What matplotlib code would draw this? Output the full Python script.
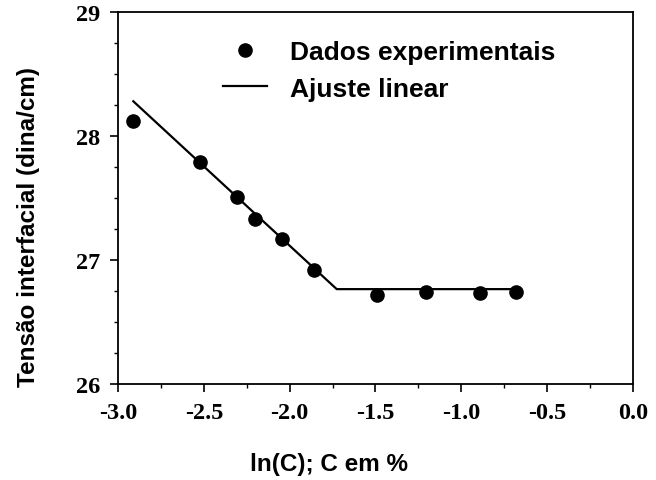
import matplotlib.pyplot as plt
from matplotlib.ticker import MultipleLocator

# experimental points
ln_c = [-2.91, -2.52, -2.305, -2.20, -2.043, -1.857, -1.49, -1.203, -0.892, -0.684]
tensao = [28.12, 27.79, 27.51, 27.33, 27.17, 26.92, 26.72, 26.74, 26.73, 26.74]

# linear fit (two segments)
fit_x = [-2.911, -1.726, -0.668]
fit_y = [28.28, 26.765, 26.765]

xticks = [-3.0, -2.5, -2.0, -1.5, -1.0, -0.5, 0.0]
xlabels = ['-3.0', '-2.5', '-2.0', '-1.5', '-1.0', '-0.5', '0.0']
yticks = [26, 27, 28, 29]

fig = plt.figure(figsize=(6.56, 4.81), dpi=100)
ax = fig.add_axes([0.1799, 0.1996, 0.785, 0.7734])

ax.plot(fit_x, fit_y, color='black', lw=1.6, label='Ajuste linear')
ax.plot(ln_c, tensao, 'o', color='black', ms=9.5, label='Dados experimentais')

ax.set_xlim(-3.0, 0.0)
ax.set_ylim(26, 29)
ax.xaxis.set_minor_locator(MultipleLocator(0.25))
ax.yaxis.set_minor_locator(MultipleLocator(0.25))
ax.tick_params(which='major', direction='out', length=6, width=1.2, pad=7)
ax.tick_params(which='minor', direction='out', length=3, width=1.0)
tfont = dict(family='Liberation Serif', fontweight='bold', fontsize=17.5)
ax.set_xticks(xticks)
ax.set_xticklabels(xlabels, **tfont)
ax.set_yticks(yticks)
ax.set_yticklabels([str(v) for v in yticks], **tfont)
for s in ax.spines.values():
    s.set_linewidth(1.3)

ax.set_xlabel('ln(C); C em %', family='Liberation Sans', fontweight='bold',
              fontsize=17.5, va='center')
ax.xaxis.set_label_coords(0.41, -0.215)
ax.set_ylabel('Tensão interfacial (dina/cm)', family='Liberation Sans',
              fontweight='bold', fontsize=17.5, va='center')
ax.yaxis.set_label_coords(-0.173, 0.425)

h, l = ax.get_legend_handles_labels()
ax.legend([h[1], h[0]], [l[1], l[0]], loc='upper left', bbox_to_anchor=(0.158, 0.988),
          frameon=False, handlelength=1.65, handletextpad=0.9, labelspacing=0.47,
          prop={'family': 'Liberation Sans', 'weight': 'bold', 'size': 19})

fig.savefig('out.png', dpi=100)
